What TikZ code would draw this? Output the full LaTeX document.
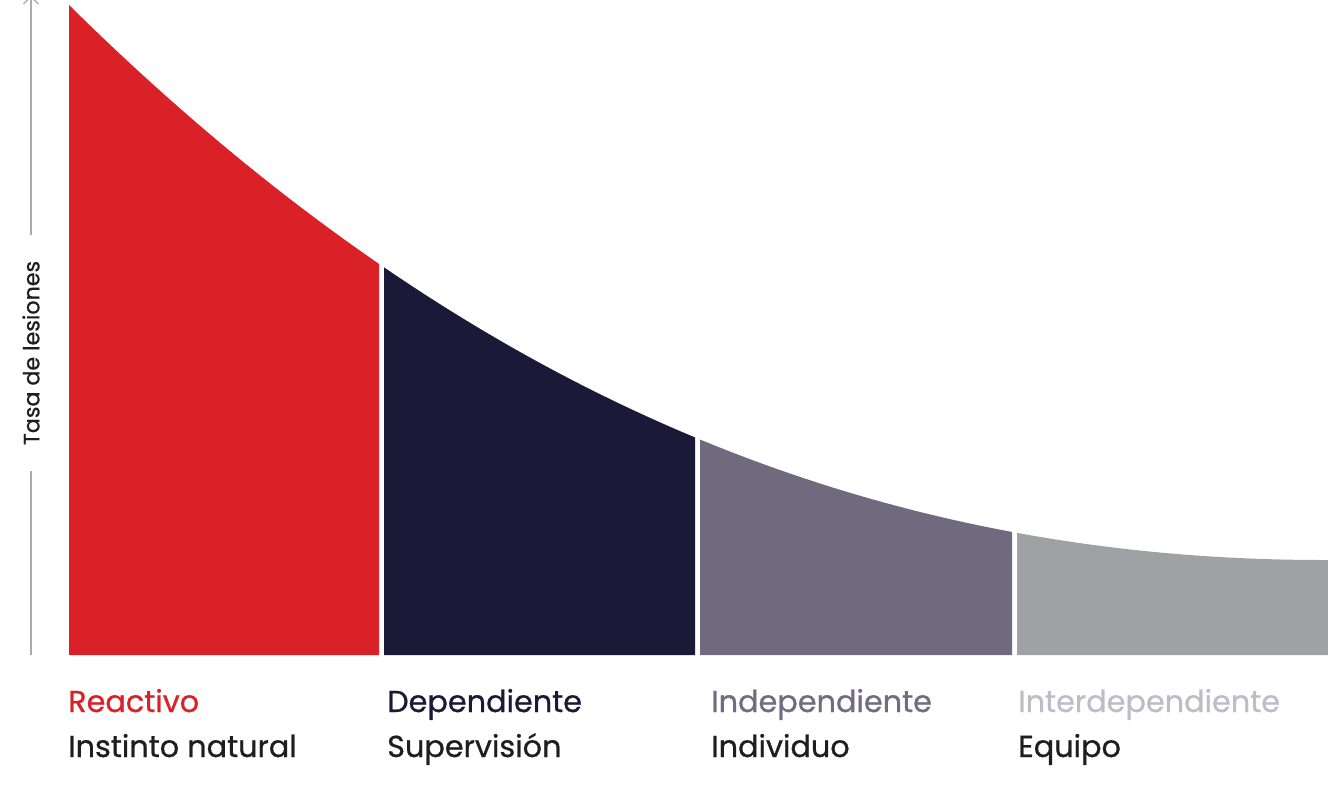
\documentclass[tikz,border=0pt]{standalone}
\usepackage{fontspec}
\setmainfont{Poppins}
\newfontfamily\labfont[FakeBold=0.8]{Poppins}
\usetikzlibrary{arrows.meta}
\definecolor{cred}{HTML}{DA2128}
\definecolor{cnavy}{HTML}{1A1A38}
\definecolor{cpurp}{HTML}{706A7E}
\definecolor{cgray}{HTML}{A0A1A4}
\definecolor{tpurp}{HTML}{726C82}
\definecolor{tlight}{HTML}{BFBCC7}
\definecolor{tdark}{HTML}{1E1E1E}
\definecolor{caxis}{HTML}{ABABAB}
\newcommand\areaunder{(69,655) -- (69,5) .. controls (459,390) and (865,561) .. (1328,560) -- (1328,655) -- cycle}
\begin{document}
\begin{tikzpicture}[x=1pt,y=-1pt,
  toplab/.style={anchor=base west,inner sep=0pt,font=\labfont\fontsize{30.3}{36}\selectfont},
  sublab/.style={anchor=base west,inner sep=0pt,font=\labfont\fontsize{30.3}{36}\selectfont,text=tdark},
  axisline/.style={draw=caxis,line width=1.3pt}]
\useasboundingbox (0,0) rectangle (1328,808);
% bands
\begin{scope}\clip (69,0) rectangle (379,655); \fill[cred] \areaunder; \end{scope}
\begin{scope}\clip (384,0) rectangle (695,655); \fill[cnavy] \areaunder; \end{scope}
\begin{scope}\clip (700,0) rectangle (1012,655); \fill[cpurp] \areaunder; \end{scope}
\begin{scope}\clip (1017,0) rectangle (1328,655); \fill[cgray] \areaunder; \end{scope}
% axis
\node[rotate=90,inner xsep=26pt,inner ysep=0pt,text=tdark,font=\labfont\fontsize{22.2}{26}\selectfont] (ylab) at (31,353) {Tasa de lesiones};
\coordinate (axtop) at (31,-4);
\coordinate (axbot) at (31,655);
\draw[axisline,-{Straight Barb[length=7pt,width=15pt]}] (ylab.east) -- (axtop);
\draw[axisline] (ylab.west) -- (axbot);
% labels
\node[toplab,text=cred] (l1) at (68,712) {Reactivo};
\node[sublab] (s1) at (68,757) {Instinto natural};
\node[toplab,text=cnavy] (l2) at (387,712) {Dependiente};
\node[sublab] (s2) at (387,757) {Supervisión};
\node[toplab,text=tpurp] (l3) at (711,712) {Independiente};
\node[sublab] (s3) at (711,757) {Individuo};
\node[toplab,text=tlight] (l4) at (1018,712) {Interdependiente};
\node[sublab] (s4) at (1018,757) {Equipo};
\end{tikzpicture}
\end{document}
